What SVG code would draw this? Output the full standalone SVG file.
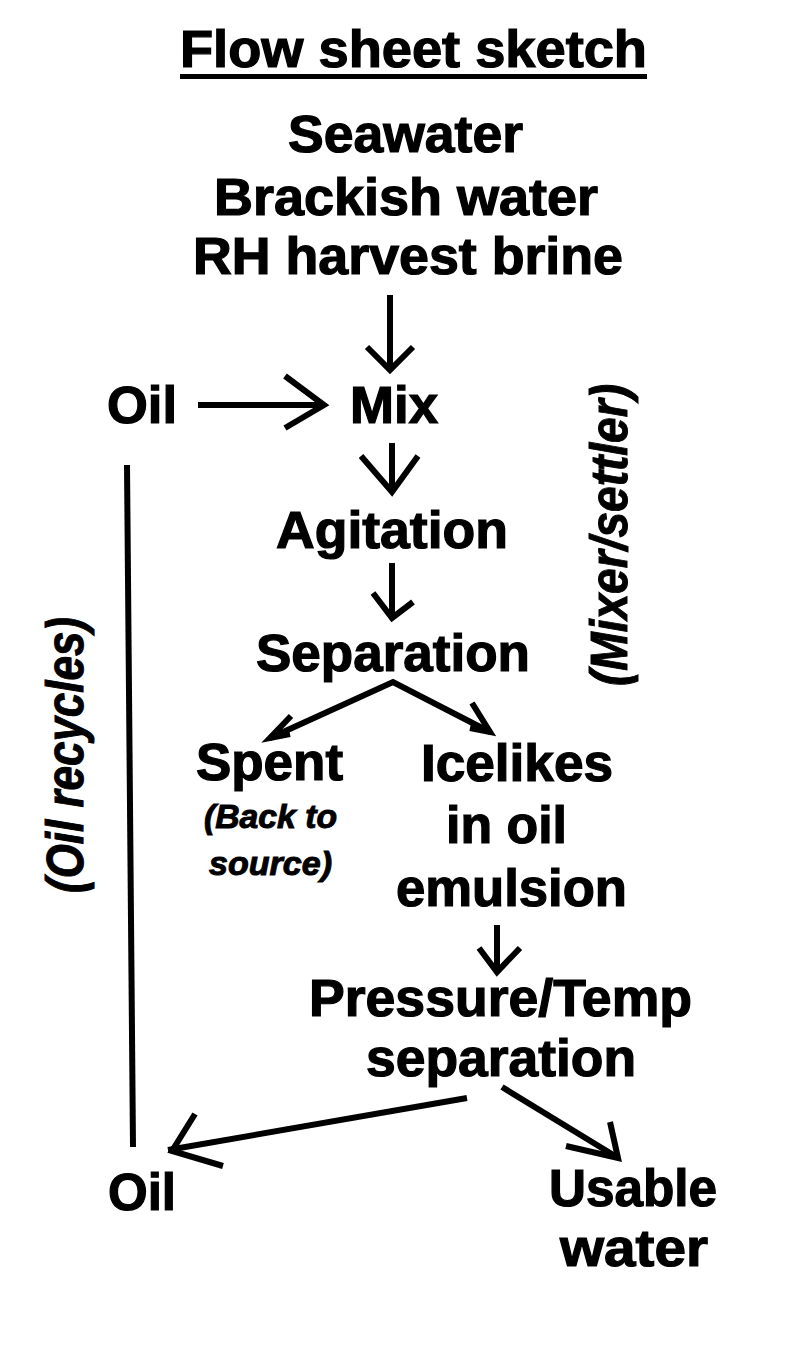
<svg xmlns="http://www.w3.org/2000/svg" width="800" height="1359" viewBox="0 0 800 1359">
<style>
  .t { font-family: "Liberation Sans", Arial, sans-serif; font-weight: bold; font-size: 51px; fill: #000; stroke: #000; stroke-width: 1.2; }
  .it { font-family: "Liberation Sans", Arial, sans-serif; font-weight: bold; font-style: italic; fill: #000; stroke: #000; stroke-width: 1; }
  .ln { fill: none; stroke: #000; stroke-width: 6; stroke-linecap: butt; stroke-linejoin: miter; }
  .hd { fill: none; stroke: #000; stroke-width: 6; stroke-linecap: butt; stroke-linejoin: miter; }
</style>
<rect width="800" height="1359" fill="#fff"/>

<g id="title">
  <text class="t" x="180" y="67" textLength="467" lengthAdjust="spacingAndGlyphs">Flow sheet sketch</text>
  <rect x="180" y="74" width="467" height="5" fill="#000"/>
</g>
<g id="sources">
  <text class="t" x="288" y="152" textLength="235" lengthAdjust="spacingAndGlyphs">Seawater</text>
  <text class="t" x="214" y="215" textLength="384" lengthAdjust="spacingAndGlyphs">Brackish water</text>
  <text class="t" x="193" y="274" textLength="430" lengthAdjust="spacingAndGlyphs">RH harvest brine</text>
</g>
<g id="oil-in">
  <text class="t" x="107" y="423" textLength="70" lengthAdjust="spacingAndGlyphs">Oil</text>
</g>
<g id="mix">
  <text class="t" x="350" y="423" textLength="88" lengthAdjust="spacingAndGlyphs">Mix</text>
</g>
<g id="agitation">
  <text class="t" x="276" y="548" textLength="232" lengthAdjust="spacingAndGlyphs">Agitation</text>
</g>
<g id="separation">
  <text class="t" x="256" y="671" textLength="274" lengthAdjust="spacingAndGlyphs">Separation</text>
</g>
<g id="mixer-settler">
  <text class="it" font-size="51" transform="translate(627,686) rotate(-90)" x="0" y="0" textLength="302" lengthAdjust="spacingAndGlyphs">(Mixer/settler)</text>
</g>
<g id="oil-recycles">
  <text class="it" font-size="51" transform="translate(83,893) rotate(-90)" x="0" y="0" textLength="276" lengthAdjust="spacingAndGlyphs">(Oil recycles)</text>
</g>
<g id="spent">
  <text class="t" x="196" y="780" textLength="147" lengthAdjust="spacingAndGlyphs">Spent</text>
  <text class="it" font-size="33" x="204" y="828" textLength="133" lengthAdjust="spacingAndGlyphs">(Back to</text>
  <text class="it" font-size="33" x="209" y="875" textLength="123" lengthAdjust="spacingAndGlyphs">source)</text>
</g>
<g id="icelikes">
  <text class="t" x="421" y="781" textLength="192" lengthAdjust="spacingAndGlyphs">Icelikes</text>
  <text class="t" x="446" y="843" textLength="121" lengthAdjust="spacingAndGlyphs">in oil</text>
  <text class="t" x="396" y="906" textLength="231" lengthAdjust="spacingAndGlyphs">emulsion</text>
</g>
<g id="pt-separation">
  <text class="t" x="309" y="1016" textLength="383" lengthAdjust="spacingAndGlyphs">Pressure/Temp</text>
  <text class="t" x="366" y="1076" textLength="270" lengthAdjust="spacingAndGlyphs">separation</text>
</g>
<g id="oil-out">
  <text class="t" x="108" y="1210" textLength="68" lengthAdjust="spacingAndGlyphs">Oil</text>
</g>
<g id="usable-water">
  <text class="t" x="549" y="1206" textLength="168" lengthAdjust="spacingAndGlyphs">Usable</text>
  <text class="t" x="560" y="1266" textLength="148" lengthAdjust="spacingAndGlyphs">water</text>
</g>

<g id="connectors">
  <!-- sources -> Mix -->
  <line class="ln" x1="390" y1="295" x2="390" y2="368"/>
  <polyline class="hd" points="367,347 390,370 413,347"/>
  <!-- Oil -> Mix -->
  <line class="ln" x1="198" y1="405" x2="322" y2="405" stroke-width="7"/>
  <polyline class="hd" points="285,376 324,405 285,428"/>
  <!-- Mix -> Agitation -->
  <line class="ln" x1="392" y1="443" x2="392" y2="490"/>
  <polyline class="hd" points="361,456 392,492 418,456"/>
  <!-- Agitation -> Separation -->
  <line class="ln" x1="392" y1="563" x2="392" y2="616"/>
  <polyline class="hd" points="373,593 392,618 413,602"/>
  <!-- Separation -> Spent / Icelikes -->
  <polyline class="ln" points="270,738 393,682 490,732"/>
  <polyline class="hd" points="291,716 270,738 290,734"/>
  <polyline class="hd" points="472,703 490,732 470,728"/>
  <!-- Icelikes -> Pressure/Temp -->
  <line class="ln" x1="497" y1="925" x2="497" y2="970"/>
  <polyline class="hd" points="479,948 497,972 520,948"/>
  <!-- Pressure/Temp -> Oil -->
  <line class="ln" x1="467" y1="1098" x2="168" y2="1150"/>
  <polyline class="hd" points="195,1114 172,1151 223,1166"/>
  <!-- Pressure/Temp -> Usable water -->
  <line class="ln" x1="502" y1="1087" x2="615" y2="1156"/>
  <polyline class="hd" points="610,1122 618,1158 566,1146"/>
  <!-- oil recycle line -->
  <line class="ln" x1="127" y1="465" x2="133" y2="1147" stroke-width="7"/>
</g>
</svg>
